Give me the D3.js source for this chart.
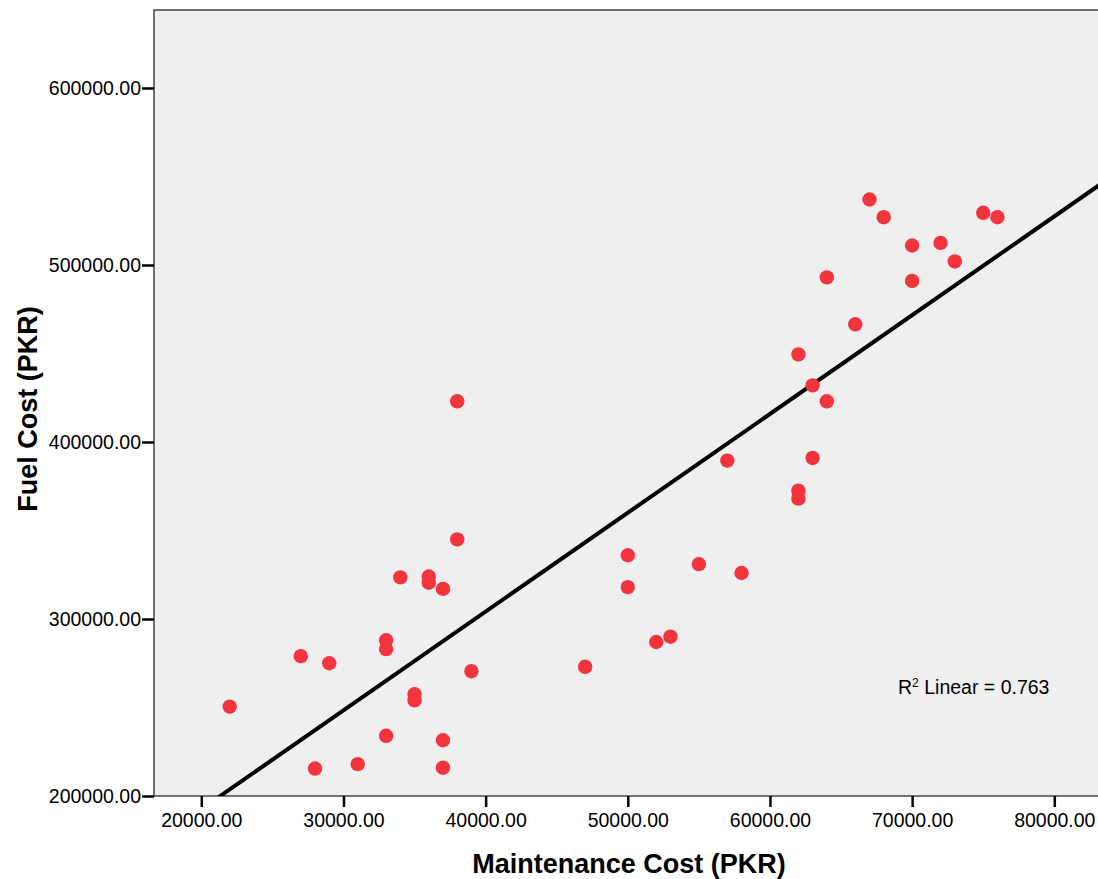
<!doctype html>
<html lang="en">
  <head>
    <meta charset="utf-8">
    <title>Fuel cost vs maintenance cost</title>
    <style>
      body { margin: 0; background: #fff; }
      svg { display: block; font-family: "Liberation Sans", Arial, sans-serif; }
    </style>
  </head>
  <body>
    <script src="https://cdn.jsdelivr.net/npm/d3@7/dist/d3.min.js"></script>
    <script>

// maintenance cost (x) and fuel cost (y), one entry per vehicle
var maintenance = [22000, 27000, 28000, 29000, 31000, 33000, 33000, 33000, 34000, 35000,
                   35000, 36000, 36000, 37000, 37000, 37000, 38000, 38000, 39000, 47000,
                   50000, 50000, 52000, 53000, 55000, 57000, 58000, 62000, 62000, 62000,
                   63000, 63000, 64000, 64000, 66000, 67000, 68000, 70000, 70000, 72000,
                   73000, 75000, 76000];
var fuel        = [250500, 279000, 215500, 275000, 218000, 288000, 283000, 234000, 323500, 257500,
                   254000, 324000, 320500, 317000, 231500, 216000, 423000, 345000, 270500, 273000,
                   336000, 318000, 287000, 290000, 331000, 389500, 326000, 449500, 372500, 368000,
                   432000, 391000, 493000, 423000, 466500, 537000, 527000, 511000, 491000, 512500,
                   502000, 529500, 527000];

var xTicks = [20000, 30000, 40000, 50000, 60000, 70000, 80000];
var yTicks = [200000, 300000, 400000, 500000, 600000];
var rSquared = 0.763;

var width = 1098, height = 879;
var plot = {left: 154, top: 10, right: 1110, bottom: 796};

var svg = d3.select("body")
    .append("svg")
    .attr("width", width)
    .attr("height", height);

var x = d3.scaleLinear().domain([20000, 80000]).range([201.3, 1054.3]);
var y = d3.scaleLinear().domain([200000, 600000]).range([796, 88]);

svg.append("defs").append("clipPath")
   .attr("id", "plotclip")
   .append("rect")
   .attr("x", plot.left).attr("y", plot.top)
   .attr("width", plot.right - plot.left).attr("height", plot.bottom - plot.top);

svg.append("rect")
   .attr("x", plot.left).attr("y", plot.top)
   .attr("width", plot.right - plot.left).attr("height", plot.bottom - plot.top)
   .attr("fill", "#efefef")
   .attr("stroke", "#444")
   .attr("stroke-width", 1.5);

// least squares fit line
var data = maintenance.map(function(d, i){ return {x: d, y: fuel[i]}; });
var mx = d3.mean(data, function(d){ return d.x; });
var my = d3.mean(data, function(d){ return d.y; });
var sxy = d3.sum(data, function(d){ return (d.x - mx) * (d.y - my); });
var sxx = d3.sum(data, function(d){ return (d.x - mx) * (d.x - mx); });
var slope = sxy / sxx, intercept = my - slope * mx;
var x0 = x.invert(plot.left), x1 = x.invert(plot.right);

svg.append("line")
   .attr("clip-path", "url(#plotclip)")
   .attr("x1", x(x0)).attr("y1", y(intercept + slope * x0))
   .attr("x2", x(x1)).attr("y2", y(intercept + slope * x1))
   .attr("stroke", "#000")
   .attr("stroke-width", 4);

svg.append("g")
   .selectAll("circle")
   .data(data)
   .enter()
   .append("circle")
   .attr("cx", function(d){ return x(d.x); })
   .attr("cy", function(d){ return y(d.y); })
   .attr("r", 7.2)
   .attr("fill", "#f2353d");

var fmt = d3.format(".2f");

var xAxis = svg.append("g")
   .attr("transform", "translate(0," + plot.bottom + ")")
   .call(d3.axisBottom(x).tickValues(xTicks).tickFormat(fmt).tickSize(11).tickPadding(6));

var yAxis = svg.append("g")
   .attr("transform", "translate(" + plot.left + ",0)")
   .call(d3.axisLeft(y).tickValues(yTicks).tickFormat(fmt).tickSize(12).tickPadding(1));

[xAxis, yAxis].forEach(function(g){
  g.select(".domain").remove();
  g.selectAll(".tick line").attr("stroke", "#000").attr("stroke-width", 2.5);
  g.selectAll(".tick text").attr("fill", "#000").style("font-size", "19.5px")
   .style("font-family", "'Liberation Sans', Arial, sans-serif");
});

svg.append("text")
   .attr("x", 629).attr("y", 873)
   .attr("text-anchor", "middle")
   .style("font-size", "27px").style("font-weight", "bold")
   .text("Maintenance Cost (PKR)");

svg.append("text")
   .attr("transform", "translate(37,409) rotate(-90)")
   .attr("text-anchor", "middle")
   .style("font-size", "27px").style("font-weight", "bold")
   .text("Fuel Cost (PKR)");

var r2 = svg.append("text")
   .attr("x", 898).attr("y", 694)
   .style("font-size", "19.5px");
r2.append("tspan").text("R");
r2.append("tspan").attr("dy", -7).style("font-size", "12px").text("2");
r2.append("tspan").attr("dy", 7).text(" Linear = " + rSquared);

    </script>
  </body>
</html>
